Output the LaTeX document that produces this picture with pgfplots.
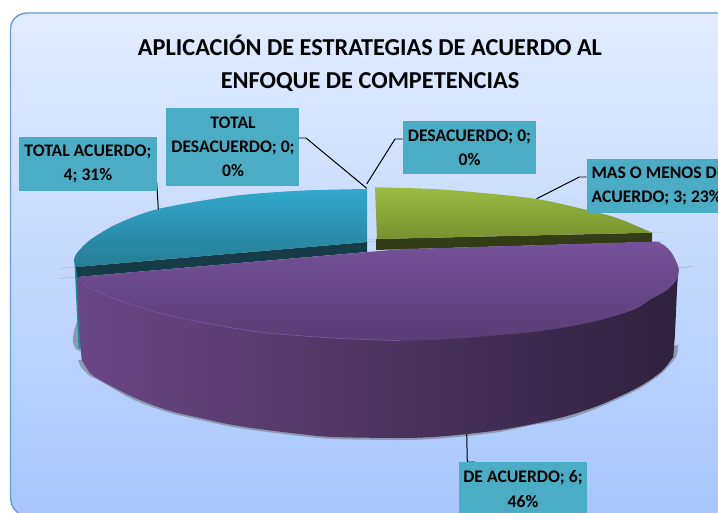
\documentclass[border=0pt]{standalone}
\usepackage{pgfplots}
\pgfplotsset{compat=1.18}
\usepackage{fontspec}
\setmainfont{Carlito}
\definecolor{bgtop}{HTML}{E2ECFF}
\definecolor{bgbot}{HTML}{A6C5FD}
\definecolor{bgedge}{HTML}{6C9BD2}
\definecolor{boxc}{HTML}{4BACC6}
\definecolor{tealt}{HTML}{31A8CC}
\definecolor{tealb}{HTML}{267A92}
\definecolor{tealband}{HTML}{163C48}
\definecolor{greent}{HTML}{9ABB43}
\definecolor{greenb}{HTML}{76902F}
\definecolor{greenband}{HTML}{333D15}
\definecolor{purt}{HTML}{75529A}
\definecolor{purb}{HTML}{583D76}
\definecolor{sidel}{HTML}{6A4787}
\definecolor{sidem}{HTML}{3A294F}
\definecolor{sider}{HTML}{2B1F38}
\definecolor{shadowc}{HTML}{8C9AB4}
\definecolor{rimc}{HTML}{7D59A6}
\definecolor{sliver}{HTML}{1F8A9C}
\newcommand{\lab}{\bfseries\fontsize{17.7}{24.2}\selectfont}
\begin{document}
\begin{tikzpicture}
\useasboundingbox (0,0) rectangle (718bp,513bp);
\begin{axis}[at={(0,0)},anchor=south west,scale only axis,width=718bp,height=513bp,
  xmin=0,xmax=718,ymin=0,ymax=513,y dir=reverse,hide axis,clip=true]
% panel
\addplot[draw=bgedge,line width=1.4pt,top color=bgtop,bottom color=bgbot] coordinates {
 (10.5,29)(11,25)(12.5,21)(15,18)(18,15.5)(22,13.8)(26.5,13)(730,13)(730,525)(26,525)(18,513)(14,509)(12,505)(10.8,500)(10.5,495)} -- cycle;
% shadow
\addplot[draw=none,fill=shadowc,smooth] coordinates {
 (78,320)(78,320)(78,320)(77,322)(74,331)(73,342)(76,349)(80,351)(81,351)(81,351)(81,351)} -- cycle;
\addplot[draw=none,fill=shadowc,smooth] coordinates {
 (78,360)(78,360)(78,360)(79,362)(81,367)(90,376)(100,381)(133,399.5)(167,412)(200,420)(233,427)(267,432)(300,436)(333,439)(400,440)(433,439)(467,436)(500,432)(533,425)(567,419)(600,407)(633,392)(650,382)(663,372)(676,357)(678,347)(678,345)(678,345)(678,345)(676,345.3)(602,360)(600,360)(600,360)(600,360)} -- cycle;
% teal sliver and band
\addplot[draw=none,fill=sliver] coordinates {(74.5,262)(82,262)(82,348)(78.5,348)} -- cycle;
\addplot[draw=none,fill=tealband] coordinates {(76,267)(367,242)(367,252)(77,277)} -- cycle;
\addplot[draw=none,top color=tealt,bottom color=tealb,smooth] coordinates {
 (367,189)(367,189)(367,189)(365,189)(300,190.7)(233,196)(158,209)(117,224)(90,240)(77,253)(74,260)(75.5,266)(76,267)(76,267)(76,267)(78,266.8)(365,242.2)(367,242)(367,242)(367,242)} -- cycle;
% green
\addplot[draw=none,fill=greenband] coordinates {(376,239)(652,232.7)(652,242)(376,250)} -- cycle;
\addplot[draw=none,top color=greent,bottom color=greenb,smooth] coordinates {
 (375,187.3)(375,187.3)(375,187.3)(377,187.35)(433,189)(483,193)(537,199)(583,209)(617,218)(650,231.8)(652,232.7)(652,232.7)(652,232.7)(650,232.75)(379,239)(377,239)(377,239)(377,239)} -- cycle;
% purple side
\addplot[draw=none,left color=sidel,middle color=sidem,right color=sider,smooth] coordinates {
 (77,277)(77,277)(77,277)(77,279)(77.3,290)(79,325)(81.5,358)(81.7,360)(81.7,360)(81.7,360)(83,362)(90,373)(100,380)(133,397)(167,410)(200,418)(233,425)(267,430)(300,434)(333,437)(400,438)(433,437)(467,434)(500,430)(533,424)(567,416)(600,405)(633,390)(650,380)(663,370)(672,358.5)(673.3,356.7)(673.3,356.7)(673.3,356.7)(673.4,355)(675,333)(677,290)(678.4,270)(678.5,268)(678.5,268)(678.5,268)(676,268.3)(402,300)(400,300)(400,300)(400,300)} -- cycle;
% purple top
\addplot[draw=none,top color=purt,bottom color=purb,smooth] coordinates {
 (77,277)(77,277)(77,277)(79,276.8)(398,249.4)(400,249.3)(400,249.3)(400,249.3)(402,249.2)(650,241.8)(652,241.7)(652,241.7)(652,241.7)(653.5,241.7)(658,241.9)(665,246)(671,252)(675,259)(678.5,268)(677,279)(667,290)(653,298)(633,310)(600,320)(567,327)(533,332)(500,335)(450,339)(400,340.7)(333,338)(267,333)(233,328)(200,322)(167,315)(133,305)(110,297)(90,288)(82,282)(78,278)(77,277)(77,277)(77,277)} -- cycle;
\addplot[rimc,line width=0.6pt,smooth] coordinates {(82,282)(90,288)(110,297)(133,305)(167,315)(200,322)(233,328)(267,333)(333,338)(400,340.7)};
% leaders
\addplot[black,line width=1pt] coordinates {(156.7,182.3)(158.3,209)};
\addplot[black,line width=1pt] coordinates {(298.7,138)(306,138)(366.7,188.3)};
\addplot[black,line width=1pt] coordinates {(403,139)(395,139)(366.7,184)};
\addplot[black,line width=1pt] coordinates {(586.7,177)(579.3,177)(536.7,198.7)};
\addplot[black,line width=1pt] coordinates {(475,462)(467.3,462)(466.7,434)};
% label boxes
\addplot[draw=none,fill=boxc] coordinates {(19,136.7)(156.7,136.7)(156.7,190.7)(19,190.7)} -- cycle;
\addplot[draw=none,fill=boxc] coordinates {(166,108)(298.7,108)(298.7,186)(166,186)} -- cycle;
\addplot[draw=none,fill=boxc] coordinates {(403.3,120.7)(535.7,120.7)(535.7,174.3)(403.3,174.3)} -- cycle;
\addplot[draw=none,fill=boxc] coordinates {(586.7,158.7)(730,158.7)(730,212.7)(586.7,212.7)} -- cycle;
\addplot[draw=none,fill=boxc] coordinates {(459.3,462)(587.3,462)(587.3,525)(459.3,525)} -- cycle;
% text
\node[align=center,font=\bfseries\fontsize{24.4}{33}\selectfont] at (axis cs:370,63.5) {APLICACIÓN DE ESTRATEGIAS DE ACUERDO AL\\ENFOQUE DE COMPETENCIAS};
\node[align=center,font=\lab] at (axis cs:88,163.5) {TOTAL ACUERDO;\\4; 31\%};
\node[align=center,font=\lab] at (axis cs:233,147) {TOTAL\\DESACUERDO; 0;\\0\%};
\node[align=center,font=\lab] at (axis cs:469.5,147.5) {DESACUERDO; 0;\\0\%};
\node[align=left,anchor=west,font=\lab] at (axis cs:588,185.7) {MAS O MENOS DE\\ACUERDO; 3; 23\%};
\node[align=center,font=\lab] at (axis cs:523,489) {DE ACUERDO; 6;\\46\%};
\end{axis}
\end{tikzpicture}
\end{document}
